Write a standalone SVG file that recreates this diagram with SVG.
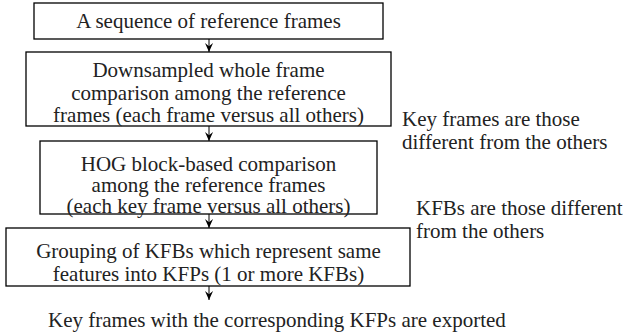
<svg xmlns="http://www.w3.org/2000/svg" width="628" height="336" viewBox="0 0 628 336">
<style>
.box{fill:#fff;stroke:#000;stroke-width:1.3}
.t{font-family:"Liberation Serif","Times New Roman",serif;font-size:21px;fill:#222}
.c{text-anchor:middle}
.ln{stroke:#000;stroke-width:1;fill:none}
</style>
<defs>
<marker id="ah" viewBox="0 0 10 10" refX="10" refY="5" markerWidth="9" markerHeight="9" markerUnits="userSpaceOnUse" orient="auto">
<path d="M0,0.5 L10,5 L0,9.5 L3.5,5 Z" fill="#000"/>
</marker>
</defs>
<g id="connectors">
<line class="ln" x1="209" y1="39" x2="209" y2="52" marker-end="url(#ah)"/>
<line class="ln" x1="209" y1="126" x2="209" y2="141" marker-end="url(#ah)"/>
<line class="ln" x1="209" y1="214" x2="209" y2="228" marker-end="url(#ah)"/>
<line class="ln" x1="209" y1="286" x2="209" y2="300" marker-end="url(#ah)"/>
</g>
<g id="n1">
<rect class="box" x="34" y="3" width="349" height="36"/>
<text class="t c" x="208.5" y="28">A sequence of reference frames</text>
</g>
<g id="n2">
<rect class="box" x="26" y="52" width="365" height="74"/>
<text class="t c" x="208.5" y="77">Downsampled whole frame</text>
<text class="t c" x="208.5" y="100">comparison among the reference</text>
<text class="t c" x="208.5" y="122">frames (each frame versus all others)</text>
</g>
<g id="n3">
<rect class="box" x="40" y="141" width="337" height="73"/>
<text class="t c" x="208.5" y="171">HOG block-based comparison</text>
<text class="t c" x="208.5" y="192">among the reference frames</text>
<text class="t c" x="208.5" y="213">(each key frame versus all others)</text>
</g>
<g id="n4">
<rect class="box" x="6" y="228" width="404" height="58"/>
<text class="t c" x="208.5" y="258">Grouping of KFBs which represent same</text>
<text class="t c" x="208.5" y="281">features into KFPs (1 or more KFBs)</text>
</g>
<g id="n5">
<text class="t" x="48" y="327">Key frames with the corresponding KFPs are exported</text>
</g>
<g id="notes">
<text class="t" x="402" y="126">Key frames are those</text>
<text class="t" x="402" y="149">different from the others</text>
<text class="t" x="416" y="215">KFBs are those different</text>
<text class="t" x="416" y="238">from the others</text>
</g>
</svg>
